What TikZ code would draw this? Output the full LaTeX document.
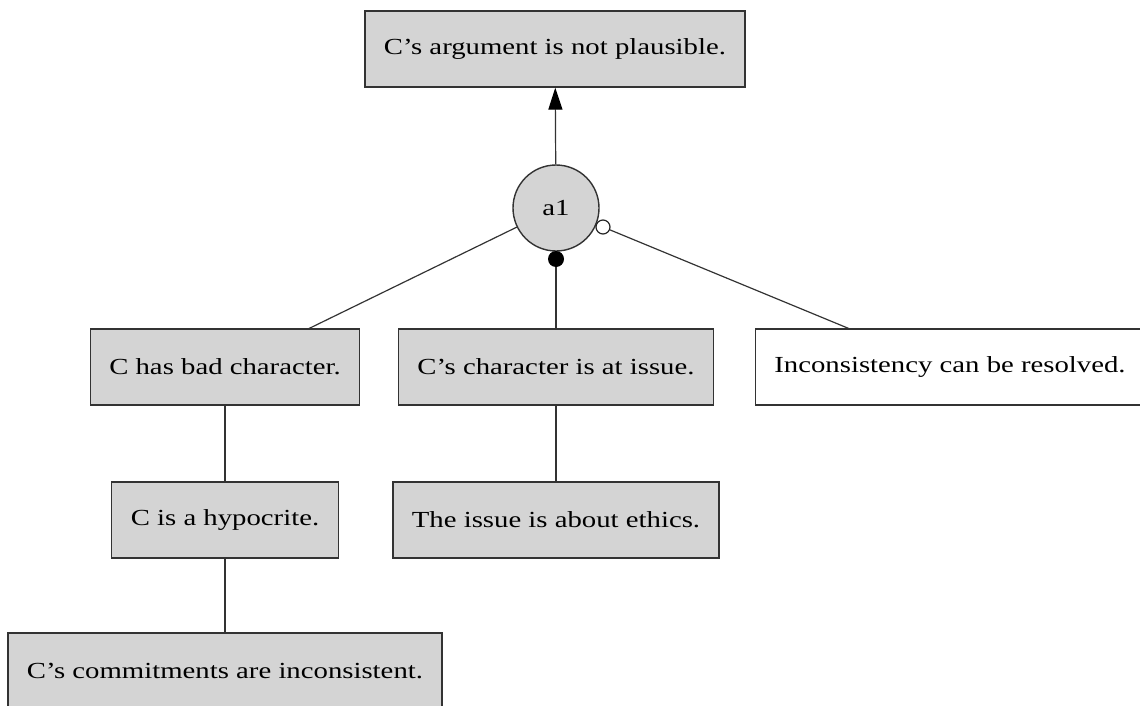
\documentclass[tikz,border=0pt]{standalone}
\usepackage{fontspec}
\setmainfont[FakeStretch=1.25]{Liberation Serif}
\usepackage{tikz}
\usetikzlibrary{arrows.meta}

\begin{document}
\begin{tikzpicture}[x=0.5pt,y=-0.5pt,
    claim/.style={draw=black!80,fill=black!17,line width=0.7pt,inner xsep=9.5pt,
      minimum height=38pt,font=\fontsize{11.5}{14}\selectfont},
    open claim/.style={claim,fill=white},
    arg/.style={circle,draw=black!80,fill=black!17,line width=0.7pt,minimum size=43pt,
      inner sep=0pt,font=\fontsize{11.5}{14}\selectfont},
    pro/.style={circle,fill=black,minimum size=8pt,inner sep=0pt},
    con/.style={circle,draw=black!85,fill=white,line width=0.6pt,minimum size=7pt,inner sep=0pt},
    link/.style={draw=black!80,line width=0.6pt}]
    \clip (0,0) rectangle (1140,706);
    \node[claim] (top) at (555,49) {C's argument is not plausible.};
    \node[arg] (a1) at (556,208) {a1};
    \node[pro] (p1) at (556,259) {};
    \node[con] (c1) at (603,227) {};
    \node[claim] (bad) at (225,367) {C has bad character.};
    \node[claim] (issue) at (556,367) {C's character is at issue.};
    \node[open claim] (resolve) at (950,367) {Inconsistency can be resolved.};
    \node[claim] (hypo) at (225,520) {C is a hypocrite.};
    \node[claim] (ethics) at (556,520) {The issue is about ethics.};
    \node[claim] (commit) at (225,671) {C's commitments are inconsistent.};
    \coordinate (badtop) at (308,329);
    \coordinate (restop) at (850,329);
    \draw[link,-{Triangle[length=11pt,width=7pt,fill=black,color=black]}] (a1) -- (top);
    \draw[link] (a1) -- (badtop);
    \draw[link] (p1) -- (issue);
    \draw[link] (c1) -- (restop);
    \draw[link] (bad) -- (hypo);
    \draw[link] (hypo) -- (commit);
    \draw[link] (issue) -- (ethics);
  \end{tikzpicture}
\end{document}
